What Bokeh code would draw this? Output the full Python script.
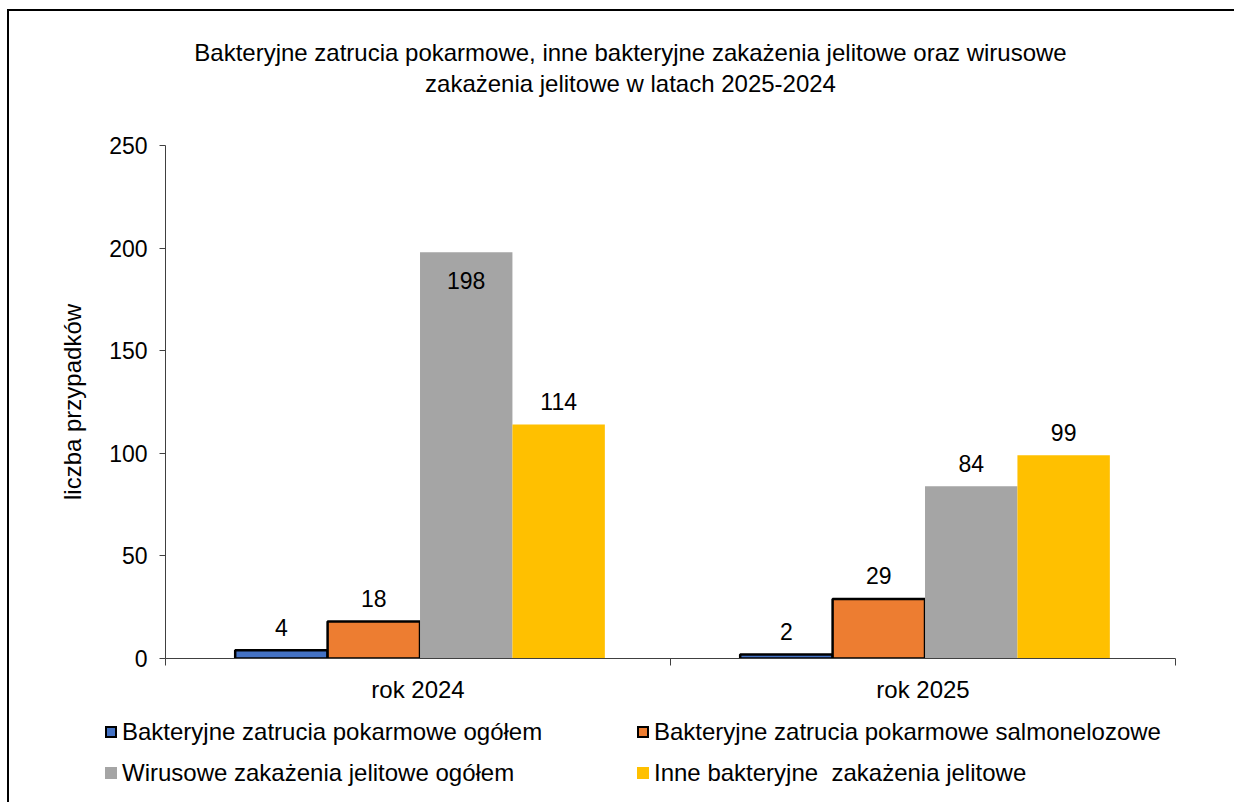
from bokeh.plotting import figure
from bokeh.layouts import column
from bokeh.models import (ColumnDataSource, FactorRange, Range1d, LinearAxis, CategoricalAxis,
                          FixedTicker, LabelSet, Label, Div)
from bokeh.transform import dodge
from bokeh.core.properties import value
from bokeh.embed import file_html
from bokeh.resources import INLINE

# ---------------- data ----------------
title_lines = ["Bakteryjne zatrucia pokarmowe, inne bakteryjne zakażenia jelitowe oraz wirusowe",
               "zakażenia jelitowe w latach 2025-2024"]
years = ["rok 2024", "rok 2025"]
series_names = ["Bakteryjne zatrucia pokarmowe ogółem",
                "Bakteryjne zatrucia pokarmowe salmonelozowe",
                "Wirusowe zakażenia jelitowe ogółem",
                "Inne bakteryjne  zakażenia jelitowe"]
zatrucia_ogolem = [4, 2]
zatrucia_salmonelozowe = [18, 29]
wirusowe_ogolem = [198, 84]
inne_bakteryjne = [114, 99]
y_ticks = [0, 50, 100, 150, 200, 250]
y_label = "liczba przypadków"

series_values = [zatrucia_ogolem, zatrucia_salmonelozowe, wirusowe_ogolem, inne_bakteryjne]
colors = ["#4472C4", "#ED7D31", "#A5A5A5", "#FFC000"]
outlined = [True, True, False, False]

FONT = "Liberation Sans"
FS = "24px"
FS_NUM = "23px"
Y_MAX = y_ticks[-1]
W = 1225
AXIS_COLOR = "#404040"

# ---------------- title strip ----------------
# (frames in a column are aligned: this frame spans canvas px 156..1166)
tf = figure(width=W, height=100, x_range=Range1d(156, 1166), y_range=Range1d(100, 0),
            output_backend="svg", toolbar_location=None, x_axis_type=None, y_axis_type=None,
            min_border=0, min_border_left=0, min_border_right=0,
            min_border_top=0, min_border_bottom=0)
tf.outline_line_color = None
tf.xgrid.grid_line_color = None
tf.ygrid.grid_line_color = None
for line, yy in zip(title_lines, [41, 72]):
    tf.add_layout(Label(x=621, y=yy, text=line, text_align="center", text_baseline="middle",
                        text_font=FONT, text_font_size=FS, text_color="black"))

# ---------------- main chart ----------------
p = figure(x_range=FactorRange(factors=years), y_range=Range1d(0, Y_MAX),
           width=W, height=594, output_backend="svg", toolbar_location=None,
           x_axis_type=None, min_border_left=156, min_border_right=59,
           min_border_top=34, min_border_bottom=46)
p.outline_line_color = None
p.xgrid.grid_line_color = None
p.ygrid.grid_line_color = None
p.background_fill_color = "white"
p.border_fill_color = "white"

ya = p.yaxis[0]
ya.ticker = FixedTicker(ticks=y_ticks)
ya.axis_line_color = AXIS_COLOR
ya.major_tick_line_color = AXIS_COLOR
ya.major_tick_in = 0
ya.major_tick_out = 6
ya.minor_tick_line_color = None
ya.major_label_text_font = FONT
ya.major_label_text_font_size = FS_NUM
ya.major_label_text_color = "black"
ya.major_label_standoff = 12
ya.axis_label = y_label
ya.axis_label_text_font = FONT
ya.axis_label_text_font_size = FS
ya.axis_label_text_font_style = "normal"
ya.axis_label_text_color = "black"
ya.axis_label_standoff = 20

# x axis: ticks between categories (no labels) + category labels
boundaries = list(range(len(years) + 1))
tick_axis = LinearAxis(ticker=FixedTicker(ticks=boundaries),
                       major_label_overrides={b: "" for b in boundaries},
                       major_tick_in=0, major_tick_out=7, minor_tick_line_color=None,
                       axis_line_color=AXIS_COLOR, major_tick_line_color=AXIS_COLOR,
                       major_label_text_font_size="1px", major_label_standoff=0)
p.add_layout(tick_axis, "below")
cat_axis = CategoricalAxis(axis_line_color=None, major_tick_line_color=None,
                           major_tick_out=0, major_tick_in=0,
                           major_label_text_font=FONT, major_label_text_font_size=FS,
                           major_label_text_color="black", major_label_standoff=10)
p.add_layout(cat_axis, "below")

bar_w = 0.183
shift = 0.004
for i, (vals, col, ol) in enumerate(zip(series_values, colors, outlined)):
    off = (i - 1.5) * bar_w + shift
    offsets = [23 if v < 0.75 * Y_MAX else -28 for v in vals]
    src = ColumnDataSource(dict(year=years, val=vals, txt=[str(v) for v in vals], yoff=offsets))
    p.vbar(x=dodge("year", off, range=p.x_range), top="val", width=bar_w, source=src,
           fill_color=col, line_color="black" if ol else None, line_width=2.5 if ol else 0)
    p.add_layout(LabelSet(x=dodge("year", off, range=p.x_range), y="val", text="txt",
                          y_offset="yoff", source=src, text_align="center",
                          text_baseline="middle", text_font=value(FONT),
                          text_font_size=FS_NUM, text_color="black"))

# ---------------- legend strip (2 columns x 2 rows) ----------------
col_x = [96, 628]
row_y = [27, 68]
parts = []
for k, (name, col, ol) in enumerate(zip(series_names, colors, outlined)):
    cx = col_x[k % 2]
    cy = row_y[k // 2]
    border = "2px solid black" if ol else "2px solid " + col
    parts.append(
        f'<span style="position:absolute;display:block;box-sizing:border-box;left:{cx}px;'
        f'top:{cy - 6}px;width:12px;height:12px;background:{col};border:{border};"></span>'
        f'<span style="position:absolute;display:block;left:{cx + 17}px;top:{cy - 14}px;'
        f'height:28px;line-height:28px;white-space:pre;">{name}</span>')
legend_html = ('<div style="position:relative;width:1225px;height:97px;'
               "font-family:'Liberation Sans', Arial, sans-serif;font-size:24px;color:black;\">"
               + "".join(parts) + "</div>")
lf = Div(text=legend_html, width=W, height=97, margin=0)

layout = column(tf, p, lf, spacing=0)
layout.styles = {"border-left": "2px solid black", "border-top": "2px solid black",
                 "margin-left": "7px", "margin-top": "9px"}

open("out.html", "w").write(file_html(layout, INLINE))
